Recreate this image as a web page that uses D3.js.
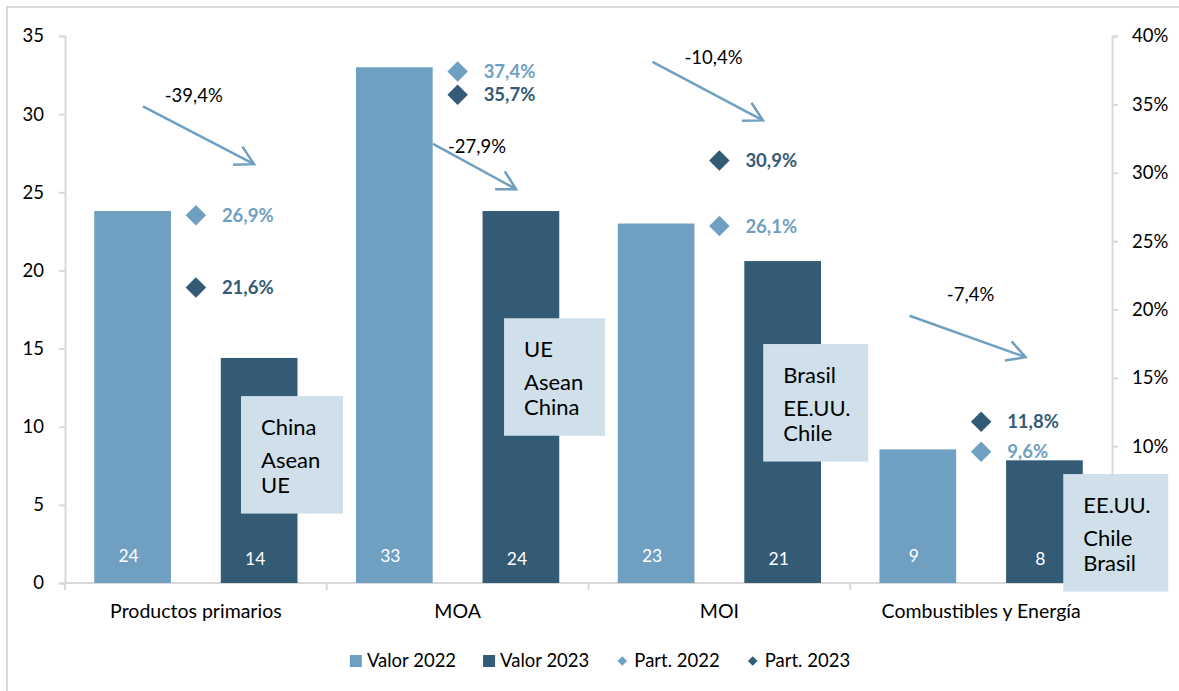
<!DOCTYPE html>
<html>
<head>
<meta charset="utf-8">
<script src="https://cdn.jsdelivr.net/npm/d3@7"></script>
<style>
  html, body { margin: 0; padding: 0; background: #fff; }
  svg { display: block; font-family: Lato, "Open Sans", sans-serif; }
</style>
</head>
<body>
<svg id="chart" width="1179" height="691"></svg>
<script>
// ---------- DATA ----------
const categories = ["Productos primarios", "MOA", "MOI", "Combustibles y Energía"];
const valor2022 = [23.8, 33.0, 23.0, 8.55];
const valor2023 = [14.4, 23.8, 20.6, 7.85];
const part2022 = [0.269, 0.374, 0.261, 0.096];
const part2023 = [0.216, 0.357, 0.309, 0.118];
const changeLabels = ["-39,4%", "-27,9%", "-10,4%", "-7,4%"];
const destinations = [
  ["China", "Asean", "UE"],
  ["UE", "Asean", "China"],
  ["Brasil", "EE.UU.", "Chile"],
  ["EE.UU.", "Chile", "Brasil"]
];
const leftTicks = [0, 5, 10, 15, 20, 25, 30, 35];
// 0% and 5% sit beneath the destination box in the original and are not visible
const rightTicks = [0.10, 0.15, 0.20, 0.25, 0.30, 0.35, 0.40];
const seriesNames = ["Valor 2022", "Valor 2023", "Part. 2022", "Part. 2023"];

// ---------- LAYOUT / STYLE ----------
const colLight = "#6fa0c1";
const colDark = "#345b75";
const colBox = "#cfe0ea";
const colAxis = "#d9d9d9";

// annotation layout (offsets within each category band, heights in left-axis units)
const arrowLayout = [
  { x1: 78, v1: 30.5, x2: 189, v2: 26.8, lx: 128.7, lv: 31.2 },
  { x1: 106.3, v1: 28.1, x2: 189.3, v2: 25.2, lx: 150.3, lv: 27.96 },
  { x1: 64, v1: 33.35, x2: 174.4, v2: 29.6, lx: 125, lv: 33.65 },
  { x1: 59.3, v1: 17.1, x2: 175.3, v2: 14.45, lx: 120.3, lv: 18.43 }
];
const boxLayout = [
  { dx: 176, w: 102, top: 11.96 },
  { dx: 177.3, w: 101, top: 16.94 },
  { dx: 174.7, w: 105, top: 15.29 },
  { dx: 213, w: 105, top: 6.97 }
];
const boxH = 117.5;
const boxLineOffsets = [31, 64, 89];

const svg = d3.select("#chart");

// border
svg.append("rect").attr("x", 7).attr("y", 7).attr("width", 1200).attr("height", 720)
  .attr("fill", "none").attr("stroke", colAxis).attr("stroke-width", 2);

// scales
const x = d3.scaleBand().domain(categories).range([65, 1112]);
const xs = d3.scaleBand().domain(["2022", "2023"]).range([0, x.bandwidth()])
  .paddingInner(0.394).paddingOuter(0.231);
const yL = d3.scaleLinear().domain([0, 35]).range([583, 36]);
const yR = d3.scaleLinear().domain([0, 0.40]).range([583, 36]);

const pctFmt = d3.formatLocale({ decimal: ",", thousands: ".", grouping: [3], currency: ["", ""] });
const fmtTick = pctFmt.format(".0%");
const fmtPart = pctFmt.format(".1%");

// axes
function styleAxis(g) {
  g.selectAll("path.domain").attr("stroke", colAxis).attr("stroke-width", 2);
  g.selectAll(".tick line").attr("stroke", colAxis).attr("stroke-width", 2);
  g.selectAll(".tick text").attr("fill", "#000").attr("font-size", 18.5)
    .attr("font-family", "Lato, sans-serif");
}
svg.append("g").attr("transform", "translate(65,0)")
  .call(d3.axisLeft(yL).tickValues(leftTicks).tickSize(6).tickPadding(15))
  .call(styleAxis);
svg.append("g").attr("transform", "translate(1112,0)")
  .call(d3.axisRight(yR).tickValues(rightTicks).tickFormat(fmtTick).tickSize(6).tickPadding(14))
  .call(styleAxis);

// bottom axis
const xg = svg.append("g");
xg.append("line").attr("x1", 65).attr("x2", 1112).attr("y1", yL(0)).attr("y2", yL(0))
  .attr("stroke", colAxis).attr("stroke-width", 2);
const bounds = categories.map(c => x(c)).concat([x(categories[categories.length - 1]) + x.bandwidth()]);
xg.selectAll("line.tk").data(bounds).join("line").attr("class", "tk")
  .attr("x1", d => d).attr("x2", d => d).attr("y1", yL(0)).attr("y2", yL(0) + 7)
  .attr("stroke", colAxis).attr("stroke-width", 2);
xg.selectAll("text").data(categories).join("text")
  .attr("x", d => x(d) + x.bandwidth() / 2).attr("y", 611).attr("dy", "0.35em")
  .attr("text-anchor", "middle").attr("font-size", 19.5).attr("fill", "#000").text(d => d);

// bars
const barData = [];
categories.forEach((c, i) => {
  barData.push({ c, s: "2022", v: valor2022[i], col: colLight });
  barData.push({ c, s: "2023", v: valor2023[i], col: colDark });
});
svg.append("g").selectAll("rect").data(barData).join("rect")
  .attr("x", d => x(d.c) + xs(d.s)).attr("width", xs.bandwidth())
  .attr("y", d => yL(d.v)).attr("height", d => yL(0) - yL(d.v))
  .attr("fill", d => d.col);
svg.append("g").selectAll("text").data(barData).join("text")
  .attr("x", d => x(d.c) + xs(d.s) + xs.bandwidth() / 2 - 4)
  .attr("y", d => yL(0) - (d.s === "2022" ? 27 : 24)).attr("dy", "0.35em")
  .attr("text-anchor", "middle").attr("font-size", 17.5).attr("fill", "#fff")
  .text(d => Math.round(d.v));

// participation markers
const partData = [];
categories.forEach((c, i) => {
  partData.push({ c, v: part2022[i], col: colLight });
  partData.push({ c, v: part2023[i], col: colDark });
});
const diamond = d3.symbol(d3.symbolSquare, 210);
const pg = svg.append("g");
pg.selectAll("path").data(partData).join("path")
  .attr("d", diamond)
  .attr("transform", d => `translate(${x(d.c) + x.bandwidth() / 2},${yR(d.v)}) rotate(45)`)
  .attr("fill", d => d.col);
pg.selectAll("text").data(partData).join("text")
  .attr("x", d => x(d.c) + x.bandwidth() / 2 + 26).attr("y", d => yR(d.v)).attr("dy", "0.35em")
  .attr("font-size", 18.5).attr("font-weight", 700).attr("fill", d => d.col)
  .text(d => fmtPart(d.v));

// change arrows
const ag = svg.append("g");
categories.forEach((c, i) => {
  const a = arrowLayout[i];
  const x1 = x(c) + a.x1, y1 = yL(a.v1), x2 = x(c) + a.x2, y2 = yL(a.v2);
  const ang = Math.atan2(y2 - y1, x2 - x1);
  const hl = 21, ha = 29 * Math.PI / 180;
  const p1 = [x2 - hl * Math.cos(ang - ha), y2 - hl * Math.sin(ang - ha)];
  const p2 = [x2 - hl * Math.cos(ang + ha), y2 - hl * Math.sin(ang + ha)];
  ag.append("line").attr("x1", x1).attr("y1", y1).attr("x2", x2).attr("y2", y2)
    .attr("stroke", colLight).attr("stroke-width", 2.5);
  ag.append("path").attr("d", `M${p1[0]},${p1[1]}L${x2},${y2}L${p2[0]},${p2[1]}`)
    .attr("fill", "none").attr("stroke", colLight).attr("stroke-width", 2.5);
  ag.append("text").attr("x", x(c) + a.lx).attr("y", yL(a.lv)).attr("dy", "0.35em")
    .attr("text-anchor", "middle").attr("font-size", 18.5).attr("fill", "#000")
    .text(changeLabels[i]);
});

// destination boxes
const bg = svg.append("g");
categories.forEach((c, i) => {
  const b = boxLayout[i];
  const bx = x(c) + b.dx, by = yL(b.top);
  bg.append("rect").attr("x", bx).attr("y", by).attr("width", b.w).attr("height", boxH)
    .attr("fill", colBox);
  destinations[i].forEach((t, j) => {
    bg.append("text").attr("x", bx + 20).attr("y", by + boxLineOffsets[j]).attr("dy", "0.35em")
      .attr("font-size", 22).attr("fill", "#000").text(t);
  });
});

// legend
const lg = svg.append("g");
const legendItems = [
  { name: seriesNames[0], type: "sq", col: colLight },
  { name: seriesNames[1], type: "sq", col: colDark },
  { name: seriesNames[2], type: "di", col: colLight },
  { name: seriesNames[3], type: "di", col: colDark }
];
const ly = 661;
let cx = 0;
legendItems.forEach(it => {
  const g = lg.append("g");
  if (it.type === "sq") {
    g.append("rect").attr("x", 0).attr("y", ly - 6).attr("width", 12).attr("height", 12).attr("fill", it.col);
  } else {
    g.append("path").attr("d", d3.symbol(d3.symbolSquare, 46)())
      .attr("transform", `translate(6,${ly}) rotate(45)`).attr("fill", it.col);
  }
  const tx = it.type === "sq" ? 17 : 18;
  const t = g.append("text").attr("x", tx).attr("y", ly).attr("dy", "0.35em")
    .attr("font-size", 18.5).attr("fill", "#000").text(it.name);
  const w = tx + t.node().getComputedTextLength();
  g.attr("transform", `translate(${cx},0)`);
  cx += w + 27;
});
const total = cx - 27;
lg.attr("transform", `translate(${600 - total / 2},0)`);
</script>
</body>
</html>
